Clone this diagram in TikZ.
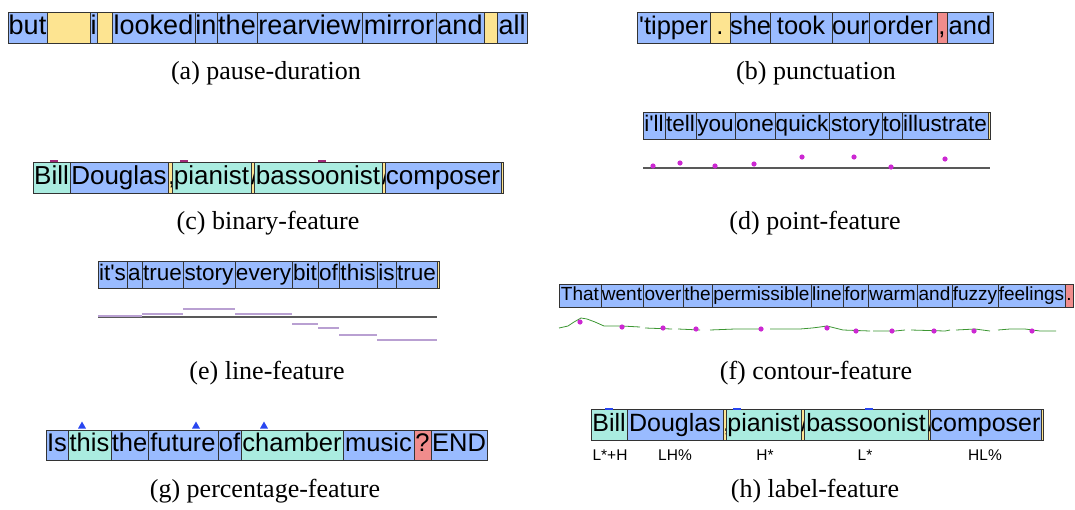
\documentclass[tikz,border=0pt]{standalone}
\usepackage{fontspec}
\setmainfont{Liberation Serif}
\newfontfamily\wordfont[Ligatures=TeXOff]{Liberation Sans}
\definecolor{wblue}{RGB}{153,187,255}
\definecolor{wteal}{RGB}{170,236,224}
\definecolor{wyel}{RGB}{253,228,145}
\definecolor{wred}{RGB}{240,140,140}
\definecolor{ptmag}{RGB}{204,40,210}
\definecolor{lnpurple}{RGB}{185,160,210}
\definecolor{ctgreen}{RGB}{60,150,50}
\definecolor{markmag}{RGB}{160,40,120}
\definecolor{markblue}{RGB}{40,70,240}
\tikzset{
  wordbox/.style={draw=black!80, line width=0.7pt, inner sep=0pt, outer sep=0pt,
    anchor=north west},
  caption/.style={font=\fontsize{26}{28}\selectfont, inner sep=0pt},
  tonelabel/.style={font=\wordfont\fontsize{15.5}{15.5}\selectfont, inner sep=0pt},
  baseline/.style={draw=black!65, line width=1.2pt},
  ptdot/.style={fill=ptmag},
  levelseg/.style={draw=lnpurple, line width=2pt},
  contour/.style={draw=ctgreen, line width=0.8pt},
}
% a row of word boxes: name prefix, top, bottom, font size, list x1/x2/colour/text
\newcommand\wordrow[5]{%
  \foreach \xa/\xb/\col/\txt [count=\k] in {#5}{%
    \node[wordbox, fill=\col, minimum width={(\xb-\xa)*1pt},
      minimum height={(#3-#2)*1pt}, text height={#4*0.72pt}, text depth={#4*0.2pt},
      font={\wordfont\fontsize{#4}{#4}\selectfont}]
      (#1\k) at (\xa,#2) {\txt};
  }}
\begin{document}
\begin{tikzpicture}[x=1pt,y=-1pt]
\useasboundingbox (0,0) rectangle (1075,509);

% (a) pause-duration
\wordrow{a}{12}{43}{27}{8/47/wblue/but, 47/90/wyel/{}, 90/97/wblue/i, 97/112/wyel/{},
  112/195/wblue/looked, 195/217/wblue/in, 217/257/wblue/the, 257/362/wblue/rearview,
  362/436/wblue/mirror, 436/484/wblue/and, 484/497/wyel/{}, 497/527/wblue/all}
\node[caption] (capa) at (266,73) {(a) pause-duration};

% (b) punctuation
\wordrow{b}{12}{43}{25.5}{637/710/wblue/'tipper, 710/730/wyel/., 730/770/wblue/she,
  770/832/wblue/took, 832/869/wblue/our, 869/937/wblue/order, 937/947/wred/{,},
  947/993/wblue/and}
\node[caption] (capb) at (816,73) {(b) punctuation};

% (c) binary-feature
\wordrow{c}{162}{193}{26}{33/70/wteal/Bill, 70/168/wblue/Douglas, 168/172/wyel/{,},
  172/251/wteal/pianist, 251/254/wyel/{/}, 254/382/wteal/bassoonist, 382/385/wyel/{/},
  385/501/wblue/composer, 501/503/wyel/{}}
\foreach \mx in {50,180,318}
  \draw[markmag, line width=2pt] (\mx,161) -- ++(8,0);
\node[caption] (capc) at (268,223) {(c) binary-feature};

% (d) point-feature
\wordrow{d}{112}{139}{22.5}{643/665/wblue/i'll, 665/696/wblue/tell, 696/735/wblue/you,
  735/775/wblue/one, 775/829/wblue/quick, 829/882/wblue/story, 882/902/wblue/to,
  902/988/wblue/illustrate, 988/990/wyel/{}}
\coordinate (dl) at (643,168);
\coordinate (dr) at (990,168);
\draw[baseline] (dl) -- (dr);
\foreach \px/\py in {653/166, 680/163, 715/166, 754/164, 802/157, 854/157, 891/167, 945/159}
  \fill[ptdot] (\px,\py) circle (2.6);
\node[caption] (capd) at (815,223) {(d) point-feature};

% (e) line-feature
\wordrow{e}{261}{288}{22.5}{98/127/wblue/it's, 127/142/wblue/a, 142/183/wblue/true,
  183/235/wblue/story, 235/292/wblue/every, 292/318/wblue/bit, 318/339/wblue/of,
  339/377/wblue/this, 377/396/wblue/is, 396/437/wblue/true, 437/439/wyel/{}}
\coordinate (el) at (98,317);
\coordinate (er) at (437,317);
\draw[baseline] (el) -- (er);
\foreach \sa/\sb/\sy in {98/142/316, 142/183/314, 183/235/309, 235/292/314,
    292/318/324, 318/339/328, 339/377/335, 377/437/340}
  \draw[levelseg] (\sa,\sy) -- (\sb,\sy);
\node[caption] (cape) at (267,373) {(e) line-feature};

% (f) contour-feature
\wordrow{f}{284}{307}{19}{559/601/wblue/That, 601/643/wblue/went, 643/683/wblue/over,
  683/712/wblue/the, 712/811/wblue/permissible, 811/843/wblue/line, 843/868/wblue/for,
  868/917/wblue/warm, 917/952/wblue/and, 952/998/wblue/fuzzy, 998/1065/wblue/feelings,
  1065/1073/wred/.}
\draw[contour] (559,328) -- (568,326) -- (574,322) -- (581,318) -- (587,319)
  -- (595,322) -- (604,326) -- (622,326) -- (640,327);
\draw[contour] (645,328) -- (672,329);
\draw[contour] (678,329) -- (700,330);
\draw[contour] (710,330) -- (735,329) -- (760,329);
\draw[contour] (770,329) -- (800,329) -- (812,328) -- (820,327) -- (827,326)
  -- (835,328) -- (843,330) -- (870,331);
\draw[contour] (873,331) -- (895,331) -- (905,330);
\draw[contour] (911,330) -- (945,331) -- (950,330);
\draw[contour] (956,330) -- (975,329) -- (990,331);
\draw[contour] (998,330) -- (1010,329) -- (1025,329) -- (1040,331) -- (1056,331);
\foreach \px/\py in {580/322, 622/327, 663/328, 696/329, 761/329, 827/328, 856/331,
    892/331, 934/331, 974/331, 1032/331}
  \fill[ptdot] (\px,\py) circle (2.6);
\node[caption] (capf) at (816,373) {(f) contour-feature};

% (g) percentage-feature
\wordrow{g}{430}{460}{25.5}{46/68/wblue/Is, 68/111/wteal/this, 111/148/wblue/the,
  148/218/wblue/future, 218/241/wblue/of, 241/343/wteal/chamber, 343/414/wblue/music,
  414/431/wred/?, 431/487/wblue/END}
\foreach \tx in {82,196,264}
  \fill[markblue] (\tx,421.5) -- (\tx+4,428.5) -- (\tx-4,428.5) -- cycle;
\node[caption] (capg) at (265,491) {(g) percentage-feature};

% (h) label-feature
\wordrow{h}{409}{440}{25}{591/627/wteal/Bill, 627/723/wblue/Douglas, 723/726/wyel/{,},
  726/801/wteal/pianist, 801/804/wyel/{/}, 804/928/wteal/bassoonist, 928/930/wyel/{/},
  930/1041/wblue/composer, 1041/1043/wyel/{}}
\foreach \mx in {605,733,865}
  \draw[markblue, line width=2pt] (\mx,409) -- ++(8,0);
\node[tonelabel] (t1) at (610,455) {L*+H};
\node[tonelabel] (t2) at (675,455) {LH\%};
\node[tonelabel] (t3) at (765,455) {H*};
\node[tonelabel] (t4) at (865,455) {L*};
\node[tonelabel] (t5) at (985,455) {HL\%};
\node[caption] (caph) at (815,491) {(h) label-feature};
\end{tikzpicture}
\end{document}
